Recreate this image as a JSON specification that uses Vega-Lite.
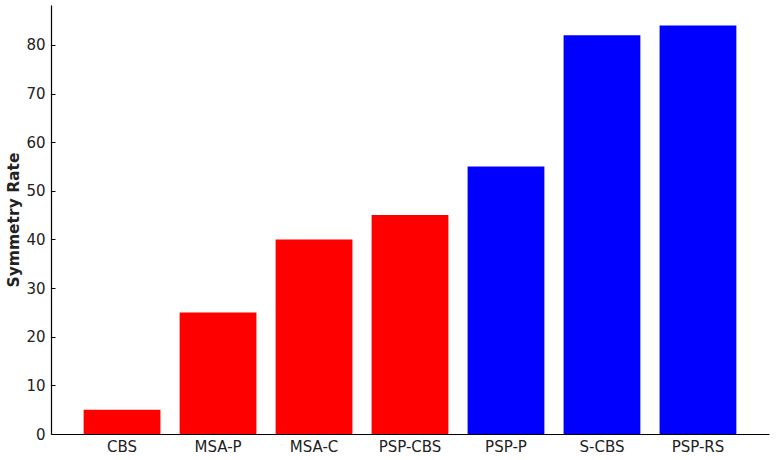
{
  "$schema": "https://vega.github.io/schema/vega-lite/v6.json",
  "autosize": "none",
  "width": 718,
  "height": 429,
  "padding": {"left": 51, "top": 5, "right": 7, "bottom": 26},
  "background": "white",
  "config": {
    "view": {"stroke": null},
    "axis": {
      "domainColor": "black",
      "domainWidth": 1.2,
      "tickColor": "black",
      "tickWidth": 1,
      "grid": false
    }
  },
  "data": {
    "values": [
      {"group": "CBS", "rate": 5, "kind": "a"},
      {"group": "MSA-P", "rate": 25, "kind": "a"},
      {"group": "MSA-C", "rate": 40, "kind": "a"},
      {"group": "PSP-CBS", "rate": 45, "kind": "a"},
      {"group": "PSP-P", "rate": 55, "kind": "b"},
      {"group": "S-CBS", "rate": 82, "kind": "b"},
      {"group": "PSP-RS", "rate": 84, "kind": "b"}
    ]
  },
  "mark": {"type": "bar"},
  "encoding": {
    "x": {
      "field": "group",
      "type": "nominal",
      "sort": null,
      "title": null,
      "scale": {"paddingInner": 0.2, "paddingOuter": 0.34},
      "axis": {
        "labelAngle": 0,
        "tickSize": -4,
        "labelPadding": 9,
        "labelFont": "DejaVu Sans",
        "labelFontSize": 15,
        "labelColor": "#222222"
      }
    },
    "y": {
      "field": "rate",
      "type": "quantitative",
      "title": "Symmetry Rate",
      "scale": {"domain": [0, 88.2], "nice": false},
      "axis": {
        "values": [0, 10, 20, 30, 40, 50, 60, 70, 80],
        "tickSize": -4,
        "labelPadding": 10,
        "labelFont": "DejaVu Sans",
        "labelFontSize": 15,
        "labelColor": "#222222",
        "titleFont": "DejaVu Sans",
        "titleColor": "#222222",
        "titleFontSize": 15.5,
        "titleFontWeight": "bold",
        "titlePadding": 4
      }
    },
    "color": {
      "field": "kind",
      "type": "nominal",
      "scale": {"domain": ["a", "b"], "range": ["#ff0000", "#0000ff"]},
      "legend": null
    }
  }
}
